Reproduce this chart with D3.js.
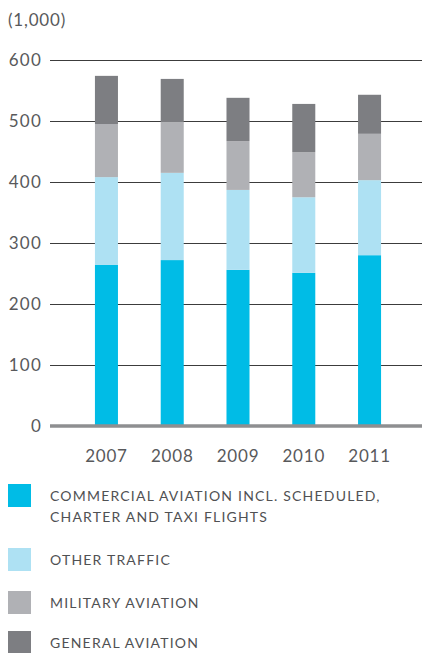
<!DOCTYPE html>
<html>
<head>
<meta charset="utf-8">
<script src="https://cdn.jsdelivr.net/npm/d3@7"></script>
<style>
  html, body { margin: 0; padding: 0; background: #fff; }
  svg { display: block; font-family: Lato, "Open Sans", sans-serif; }
</style>
</head>
<body>
<svg id="chart" width="422" height="653"></svg>
<script>
// Aircraft movements by category, thousands
const years = ["2007", "2008", "2009", "2010", "2011"];
const commercial = [264, 272, 256, 251, 280];
const otherTraffic = [144, 143, 131, 124, 123];
const military = [87, 83, 80, 74, 76];
const general = [79, 71, 71, 79, 64];
const yTicks = [0, 100, 200, 300, 400, 500, 600];
const unitLabel = "(1,000)";

const seriesNames = [
  "COMMERCIAL AVIATION INCL. SCHEDULED,\nCHARTER AND TAXI FLIGHTS",
  "OTHER TRAFFIC",
  "MILITARY AVIATION",
  "GENERAL AVIATION"
];
const seriesKeys = ["commercial", "other", "military", "general"];
const colors = ["#00bce6", "#aee1f3", "#b0b1b5", "#7d7e82"];

const rows = years.map((y, i) => ({
  year: y,
  commercial: commercial[i],
  other: otherTraffic[i],
  military: military[i],
  general: general[i]
}));

const svg = d3.select("#chart");

const y = d3.scaleLinear().domain([0, 600]).range([426, 60]);
const x = d3.scaleBand().domain(years).range([41, 435])
  .paddingInner(0.65).paddingOuter(0.82);
const color = d3.scaleOrdinal().domain(seriesKeys).range(colors);

// Unit label
svg.append("text")
  .attr("x", 8).attr("y", 26)
  .attr("fill", "#58595b")
  .attr("font-size", 17)
  .attr("letter-spacing", 0.8)
  .text(unitLabel);

// Grid + y labels
const yAxis = svg.append("g")
  .attr("transform", "translate(50,0)")
  .call(d3.axisLeft(y).tickValues(yTicks).tickSize(-372).tickPadding(8).tickFormat(d3.format("d")));
yAxis.select(".domain").remove();
yAxis.selectAll(".tick line")
  .attr("stroke", "#3c3c3c")
  .attr("stroke-width", 1.2);
yAxis.selectAll(".tick text")
  .attr("fill", "#58595b")
  .attr("font-size", 17)
  .attr("letter-spacing", 1.2)
  .attr("font-family", "Lato, sans-serif");
yAxis.selectAll(".tick").filter(d => d === 0).select("line").remove();

// Stacked bars
const stack = d3.stack().keys(seriesKeys)(rows);
svg.append("g").selectAll("g")
  .data(stack).join("g")
  .attr("fill", d => color(d.key))
  .selectAll("rect")
  .data(d => d).join("rect")
  .attr("x", d => x(d.data.year))
  .attr("width", x.bandwidth())
  .attr("y", d => y(d[1]))
  .attr("height", d => y(d[0]) - y(d[1]));

// Baseline
svg.append("line")
  .attr("x1", 50).attr("x2", 422)
  .attr("y1", y(0)).attr("y2", y(0))
  .attr("stroke", "#8e8f91")
  .attr("stroke-width", 3.5);

// Year labels
const xAxis = svg.append("g")
  .attr("transform", `translate(0,${y(0)})`)
  .call(d3.axisBottom(x).tickSize(0).tickPadding(24));
xAxis.select(".domain").remove();
xAxis.selectAll(".tick text")
  .attr("fill", "#58595b")
  .attr("font-size", 17)
  .attr("letter-spacing", 0.8)
  .attr("font-family", "Lato, sans-serif");

// Legend
const legendTops = [484, 548, 591, 631];
const legend = svg.append("g").selectAll("g")
  .data(seriesKeys).join("g")
  .attr("transform", (d, i) => `translate(8,${legendTops[i]})`);
legend.append("rect")
  .attr("width", 23).attr("height", 23)
  .attr("fill", d => color(d));
legend.append("text")
  .attr("x", 42)
  .attr("fill", "#505153")
  .attr("font-size", 14)
  .attr("letter-spacing", 1.2)
  .selectAll("tspan")
  .data((d, i) => seriesNames[i].split("\n"))
  .join("tspan")
  .attr("x", 42)
  .attr("y", (d, j) => 17 + j * 21)
  .text(d => d);
</script>
</body>
</html>
